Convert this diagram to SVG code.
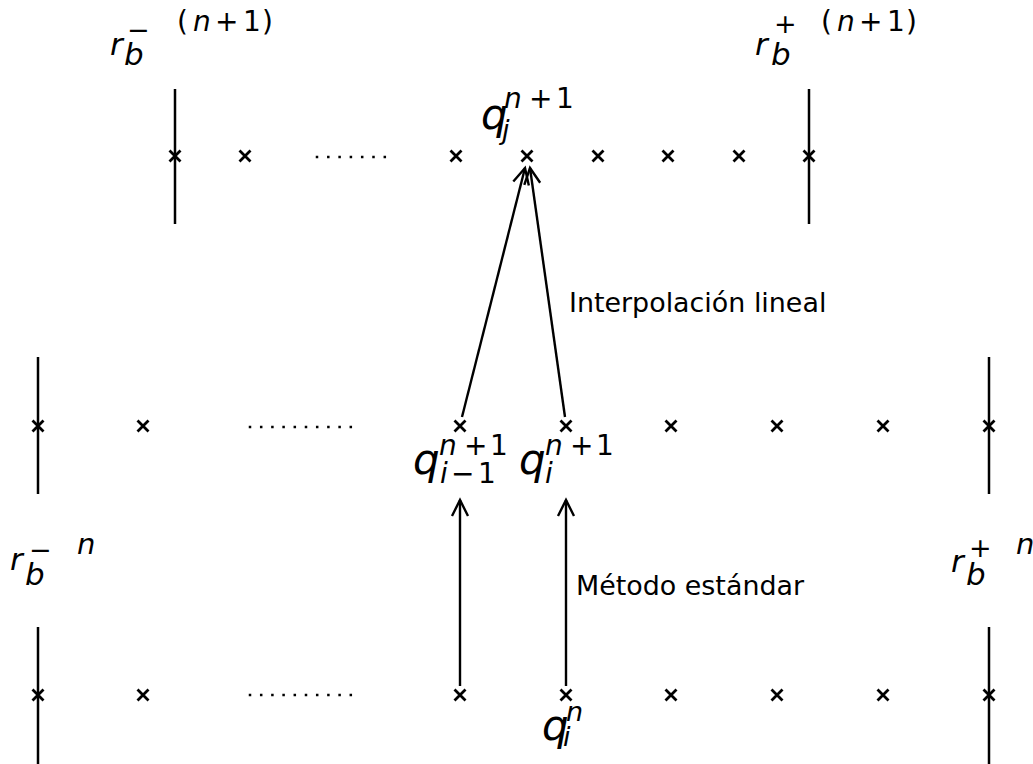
<svg xmlns="http://www.w3.org/2000/svg" width="1033" height="764" viewBox="0 0 1033 764">
<style>
.t{font-family:"DejaVu Sans",sans-serif;fill:#000}
.i{font-style:italic}
.bar{stroke:#000;stroke-width:2.5}
.mk{stroke:#000;stroke-width:2.8;fill:none}
.ar{stroke:#000;stroke-width:2.4;fill:none}
.d{fill:#000}
</style>
<defs>
<path id="x" d="M-5.5,-5.5L5.5,5.5M-5.5,5.5L5.5,-5.5" class="mk"/>
<marker id="ah" markerUnits="userSpaceOnUse" markerWidth="40" markerHeight="40" refX="0" refY="0" viewBox="-20 -20 40 40" orient="auto" overflow="visible">
<path d="M-16,-8L0,0L-16,8" stroke="#000" stroke-width="2.4" fill="none"/>
</marker>
<rect id="dt" x="-1.25" y="-1.25" width="2.5" height="2.5" class="d"/>
</defs>
<rect width="1033" height="764" fill="#fff"/>

<g id="row-top">
<line class="bar" x1="175" y1="89" x2="175" y2="224"/>
<line class="bar" x1="809" y1="89" x2="809" y2="224"/>
<use href="#x" x="175" y="156"/><use href="#x" x="245" y="156"/><use href="#x" x="456" y="156"/><use href="#x" x="527" y="156"/><use href="#x" x="598" y="156"/><use href="#x" x="668" y="156"/><use href="#x" x="739" y="156"/><use href="#x" x="809" y="156"/>
<use href="#dt" x="317" y="157"/><use href="#dt" x="328.3" y="157"/><use href="#dt" x="339.6" y="157"/><use href="#dt" x="350.9" y="157"/><use href="#dt" x="362.2" y="157"/><use href="#dt" x="373.5" y="157"/><use href="#dt" x="384.8" y="157"/>
</g>

<g id="row-mid">
<line class="bar" x1="38" y1="357" x2="38" y2="494"/>
<line class="bar" x1="989" y1="357" x2="989" y2="494"/>
<use href="#x" x="38" y="426"/><use href="#x" x="143" y="426"/><use href="#x" x="460" y="426"/><use href="#x" x="566" y="426"/><use href="#x" x="671" y="426"/><use href="#x" x="777" y="426"/><use href="#x" x="883" y="426"/><use href="#x" x="989" y="426"/>
<use href="#dt" x="250" y="427"/><use href="#dt" x="261.2" y="427"/><use href="#dt" x="272.4" y="427"/><use href="#dt" x="283.6" y="427"/><use href="#dt" x="294.8" y="427"/><use href="#dt" x="306" y="427"/><use href="#dt" x="317.2" y="427"/><use href="#dt" x="328.4" y="427"/><use href="#dt" x="339.6" y="427"/><use href="#dt" x="350.8" y="427"/>
</g>

<g id="row-bottom">
<line class="bar" x1="38" y1="627" x2="38" y2="764"/>
<line class="bar" x1="989" y1="627" x2="989" y2="764"/>
<use href="#x" x="38" y="695"/><use href="#x" x="143" y="695"/><use href="#x" x="460" y="695"/><use href="#x" x="566" y="695"/><use href="#x" x="671" y="695"/><use href="#x" x="777" y="695"/><use href="#x" x="883" y="695"/><use href="#x" x="989" y="695"/>
<use href="#dt" x="250" y="695"/><use href="#dt" x="261.2" y="695"/><use href="#dt" x="272.4" y="695"/><use href="#dt" x="283.6" y="695"/><use href="#dt" x="294.8" y="695"/><use href="#dt" x="306" y="695"/><use href="#dt" x="317.2" y="695"/><use href="#dt" x="328.4" y="695"/><use href="#dt" x="339.6" y="695"/><use href="#dt" x="350.8" y="695"/>
</g>

<g id="connectors">
<line class="ar" x1="462" y1="417" x2="525" y2="168" marker-end="url(#ah)"/>
<line class="ar" x1="565" y1="417" x2="530" y2="168" marker-end="url(#ah)"/>
<line class="ar" x1="460" y1="686" x2="460" y2="500" marker-end="url(#ah)"/>
<line class="ar" x1="566" y1="686" x2="566" y2="500" marker-end="url(#ah)"/>
</g>

<g id="label-rb-minus-top">
<text x="110" y="55" font-size="31" class="t i">r</text>
<text x="124" y="65" font-size="31" class="t i">b</text>
<text x="127" y="39" font-size="27" class="t">−</text>
<text y="31" font-size="28" class="t"><tspan x="177">(</tspan><tspan x="193" class="i">n</tspan><tspan x="215">+</tspan><tspan x="243">1</tspan><tspan x="262">)</tspan></text>
</g>
<g id="label-rb-plus-top">
<text x="755" y="55" font-size="31" class="t i">r</text>
<text x="771" y="65" font-size="31" class="t i">b</text>
<text x="774" y="33" font-size="27" class="t">+</text>
<text y="31" font-size="28" class="t"><tspan x="821">(</tspan><tspan x="837" class="i">n</tspan><tspan x="859">+</tspan><tspan x="887">1</tspan><tspan x="906">)</tspan></text>
</g>
<g id="label-rb-minus-mid">
<text x="10" y="570" font-size="31" class="t i">r</text>
<text x="25" y="585" font-size="31" class="t i">b</text>
<text x="29" y="559" font-size="27" class="t">−</text>
<text x="77" y="554" font-size="29" class="t i">n</text>
</g>
<g id="label-rb-plus-mid">
<text x="951" y="572" font-size="31" class="t i">r</text>
<text x="966" y="585" font-size="31" class="t i">b</text>
<text x="969" y="557" font-size="27" class="t">+</text>
<text x="1016" y="554" font-size="29" class="t i">n</text>
</g>

<g id="label-qj">
<text x="481" y="129" font-size="42" class="t i">q</text>
<text y="108" font-size="28" class="t"><tspan x="504" class="i">n</tspan><tspan x="529">+</tspan><tspan x="556">1</tspan></text>
<text x="502" y="139" font-size="27" class="t i">j</text>
</g>
<g id="label-qi-1">
<text x="413" y="474" font-size="42" class="t i">q</text>
<text y="455" font-size="28" class="t"><tspan x="439" class="i">n</tspan><tspan x="464">+</tspan><tspan x="490">1</tspan></text>
<text y="483" font-size="28" class="t"><tspan x="440" class="i">i</tspan><tspan x="451">−</tspan><tspan x="478">1</tspan></text>
</g>
<g id="label-qi">
<text x="519" y="474" font-size="42" class="t i">q</text>
<text y="455" font-size="28" class="t"><tspan x="545" class="i">n</tspan><tspan x="570">+</tspan><tspan x="596">1</tspan></text>
<text x="545" y="483" font-size="28" class="t i">i</text>
</g>
<g id="label-qin">
<text x="542" y="740" font-size="42" class="t i">q</text>
<text x="566" y="721" font-size="27" class="t i">n</text>
<text x="563" y="746" font-size="27" class="t i">i</text>
</g>

<g id="label-interp">
<text x="569" y="312" font-size="26.9" class="t">Interpolación lineal</text>
</g>
<g id="label-metodo">
<text x="576" y="595" font-size="26.9" class="t">Método estándar</text>
</g>
</svg>
